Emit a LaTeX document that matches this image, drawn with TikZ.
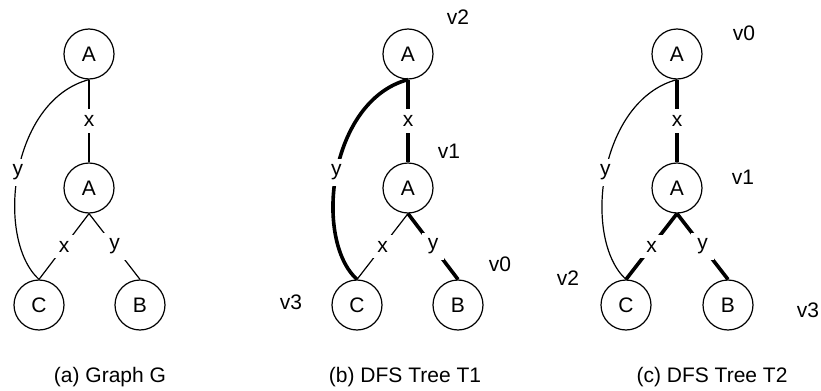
\documentclass[tikz,border=0pt]{standalone}
\usepackage{fontspec}
\setmainfont{Liberation Sans}

\begin{document}
\begin{tikzpicture}[x=0.5pt, y=-0.5pt,
        font=\fontsize{10.5}{12}\selectfont,
        vertex/.style={circle, draw, line width=0.6pt, minimum size=25pt, inner sep=0pt},
        elabel/.style={fill=white, inner sep=3pt},
        edge/.style={line width=0.6pt},
        tree/.style={line width=1.8pt}]
    \useasboundingbox (0,0) rectangle (821,391);

    % (a) the graph
    \node[vertex] (a0) at (89, 54) {A};
    \node[vertex] (a1) at (89, 188) {A};
    \node[vertex] (ac) at (39, 305) {C};
    \node[vertex] (ab) at (140, 305) {B};
    \draw[edge] (a0) -- node[elabel] {x} (a1);
    \draw[edge] (a1.south) -- node[elabel] {x} (ac.north);
    \draw[edge] (a1.south) -- node[elabel] {y} (ab.north);
    \draw[edge] (a0.south) .. controls +(-79,21) and +(-44,-40) .. node[elabel, pos=0.5] {y} (ac.north);
    \node (capa) at (110, 377) {(a) Graph G};

    % (b) first dfs tree
    \node[vertex] (b0) at (408, 54) {A};
    \node[vertex] (b1) at (408, 188) {A};
    \node[vertex] (bc) at (357, 305) {C};
    \node[vertex] (bb) at (458, 305) {B};
    \draw[edge] (b1.south) -- node[elabel] {x} (bc.north);
    \draw[tree] (b0) -- node[elabel] {x} (b1);
    \draw[tree] (b1.south) -- node[elabel] {y} (bb.north);
    \draw[tree] (b0.south) .. controls +(-79,21) and +(-44,-40) .. node[elabel, pos=0.5] {y} (bc.north);
    \node (b0v) at (458, 17) {v2};
    \node (b1v) at (449, 151) {v1};
    \node (bbv) at (500, 264) {v0};
    \node (bcv) at (291, 302) {v3};
    \node (capb) at (405, 377) {(b) DFS Tree T1};

    % (c) second dfs tree
    \node[vertex] (c0) at (677, 54) {A};
    \node[vertex] (c1) at (677, 188) {A};
    \node[vertex] (cc) at (626, 305) {C};
    \node[vertex] (cb) at (728, 305) {B};
    \draw[edge] (c0.south) .. controls +(-79,21) and +(-44,-40) .. node[elabel, pos=0.5] {y} (cc.north);
    \draw[tree] (c0) -- node[elabel] {x} (c1);
    \draw[tree] (c1.south) -- node[elabel] {x} (cc.north);
    \draw[tree] (c1.south) -- node[elabel] {y} (cb.north);
    \node (c0v) at (744, 33) {v0};
    \node (c1v) at (743, 177) {v1};
    \node (ccv) at (568, 278) {v2};
    \node (cbv) at (808, 310) {v3};
    \node (capc) at (712, 377) {(c) DFS Tree T2};
\end{tikzpicture}
\end{document}
